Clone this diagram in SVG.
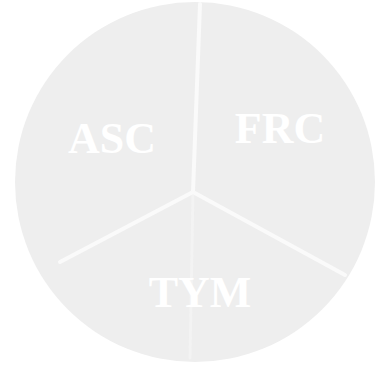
<svg xmlns="http://www.w3.org/2000/svg" width="381" height="376" viewBox="0 0 381 376">
<style>
.lbl{font-family:"Liberation Serif","Times New Roman",serif;font-size:44px;font-weight:bold;fill:#ffffff;text-anchor:middle}
.div{stroke:#fafafa;stroke-width:4;stroke-linecap:round;fill:none}
</style>
<rect width="381" height="376" fill="#ffffff"/>
<g id="pie">
<circle cx="195" cy="182" r="180" fill="#eeeeee"/>
</g>
<g id="connectors">
<line class="div" x1="200" y1="4" x2="193" y2="192"/>
<line class="div" x1="193" y1="192" x2="345" y2="275"/>
<line class="div" x1="193" y1="192" x2="60" y2="262"/>
<line class="div" x1="193" y1="192" x2="190" y2="358" style="stroke-width:3;opacity:0.4"/>
</g>
<g id="asc"><text class="lbl" x="112" y="153">ASC</text></g>
<g id="frc"><text class="lbl" x="280" y="143">FRC</text></g>
<g id="tym"><text class="lbl" x="200" y="307">TYM</text></g>
</svg>
